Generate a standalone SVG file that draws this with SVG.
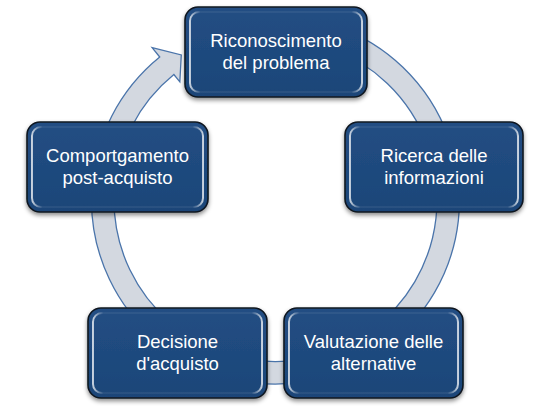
<svg xmlns="http://www.w3.org/2000/svg" width="550" height="412" viewBox="0 0 550 412">
  <defs>
    <filter id="shadow" x="-10%" y="-10%" width="120%" height="130%">
      <feDropShadow dx="0" dy="2.5" stdDeviation="2" flood-color="#000" flood-opacity="0.45"/>
    </filter>
    <linearGradient id="bevel" x1="0" y1="0" x2="1" y2="0">
      <stop offset="0" stop-color="#ffffff" stop-opacity="0.75"/>
      <stop offset="0.06" stop-color="#ffffff" stop-opacity="0.06"/>
      <stop offset="0.94" stop-color="#ffffff" stop-opacity="0.06"/>
      <stop offset="1" stop-color="#ffffff" stop-opacity="0.75"/>
    </linearGradient>
    <linearGradient id="fillg" x1="0" y1="0" x2="0" y2="1">
      <stop offset="0" stop-color="#224e83"/>
      <stop offset="0.5" stop-color="#1f4a7e"/>
      <stop offset="1" stop-color="#1c4578"/>
    </linearGradient>
  </defs>
  <style>
    .box { fill: url(#fillg); stroke: #101820; stroke-width: 1.6; filter: url(#shadow); }
    .bev { fill: none; stroke: url(#bevel); stroke-width: 2; }
    .lbl { font-family: "Liberation Sans", "Open Sans", Arial, sans-serif; font-size: 18.5px; fill: #ffffff; text-anchor: middle; }
    .ring { fill: #d3d8e0; stroke: #4a74aa; stroke-width: 1.3; stroke-linejoin: miter; }
  </style>
  <rect width="550" height="412" fill="#ffffff"/>

  <g id="connectors">
    <path class="ring" d="M 338.43 27.10 A 184 184 0 1 1 159.71 57.00 L 152.15 47.68 L 181.28 54.91 L 179.84 81.87 L 173.86 74.49 A 161.5 161.5 0 1 0 330.74 48.24 Z"/>
  </g>

  <g id="node-riconoscimento">
    <rect class="box" x="185" y="7" width="182" height="90" rx="13" ry="13"/>
    <rect class="bev" x="190" y="12" width="172" height="80" rx="9" ry="9"/>
    <text class="lbl" x="276" y="46.5">Riconoscimento</text>
    <text class="lbl" x="276" y="68.5">del problema</text>
  </g>

  <g id="node-ricerca">
    <rect class="box" x="345" y="122" width="178" height="90" rx="13" ry="13"/>
    <rect class="bev" x="350" y="127" width="168" height="80" rx="9" ry="9"/>
    <text class="lbl" x="434" y="161.5">Ricerca delle</text>
    <text class="lbl" x="434" y="183.5">informazioni</text>
  </g>

  <g id="node-valutazione">
    <rect class="box" x="284" y="308" width="179" height="90" rx="13" ry="13"/>
    <rect class="bev" x="289" y="313" width="169" height="80" rx="9" ry="9"/>
    <text class="lbl" x="373.5" y="347.5">Valutazione delle</text>
    <text class="lbl" x="373.5" y="369.5">alternative</text>
  </g>

  <g id="node-decisione">
    <rect class="box" x="88" y="308" width="179" height="90" rx="13" ry="13"/>
    <rect class="bev" x="93" y="313" width="169" height="80" rx="9" ry="9"/>
    <text class="lbl" x="177.5" y="347.5">Decisione</text>
    <text class="lbl" x="177.5" y="369.5">d'acquisto</text>
  </g>

  <g id="node-comportamento">
    <rect class="box" x="27" y="122" width="181" height="90" rx="13" ry="13"/>
    <rect class="bev" x="32" y="127" width="171" height="80" rx="9" ry="9"/>
    <text class="lbl" x="117.5" y="161.5">Comportgamento</text>
    <text class="lbl" x="117.5" y="183.5">post-acquisto</text>
  </g>
</svg>
